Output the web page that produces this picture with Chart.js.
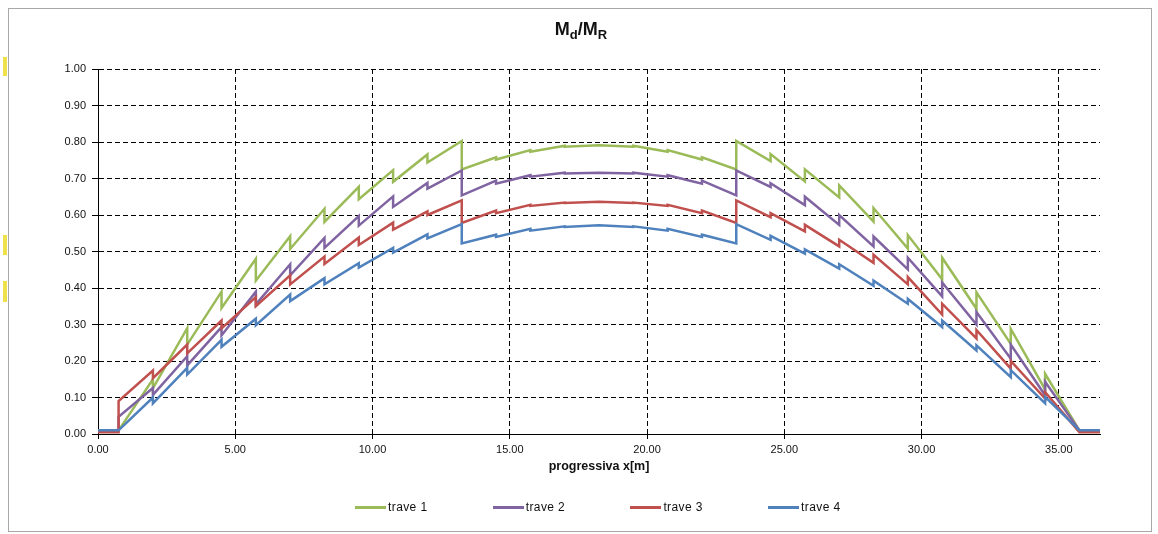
<!DOCTYPE html>
<html>
<head>
<meta charset="utf-8">
<title>Md/MR</title>
<script src="https://cdn.jsdelivr.net/npm/chart.js"></script>
<style>
    * {
        font-family: 'Liberation Sans', Arial, sans-serif;
    }
    body {
        margin: 0;
        background: #fff;
    }
    #wrap {
        position: relative;
        width: 1158px;
        height: 534px;
        overflow: hidden;
    }
    #frame {
        position: absolute;
        left: 8px;
        top: 8px;
        width: 1142px;
        height: 522px;
        border: 1px solid #a8a8a8;
    }
    #title {
        position: absolute;
        left: 0;
        top: 19px;
        width: 1162px;
        text-align: center;
        font-size: 18px;
        font-weight: bold;
        color: #111;
    }
    #title sub {
        font-size: 13px;
        vertical-align: -4px;
    }
    canvas {
        position: absolute;
        left: 0;
        top: 0;
    }
    .giallo {
        position: absolute;
        left: 3px;
        width: 4px;
        background: #efe14a;
    }
    #legend {
        position: absolute;
        left: 355px;
        top: 500px;
        display: flex;
        font-size: 12px;
        letter-spacing: 0.4px;
        color: #111;
    }
    #legend .item {
        display: flex;
        align-items: center;
        width: 137.7px;
    }
    #legend .line {
        display: inline-block;
        width: 31px;
        height: 3px;
        margin-right: 2px;
    }
</style>
</head>
<body>
<div id="wrap">
    <div id="frame"></div>
    <div class="giallo" style="top:57px;height:19px"></div>
    <div class="giallo" style="top:235px;height:20px"></div>
    <div class="giallo" style="top:281px;height:21px"></div>
    <canvas id="grafico" width="1158" height="534"></canvas>
    <div id="title">M<sub>d</sub>/M<sub>R</sub></div>
    <div id="legend"></div>
</div>

<script>
// progressiva (m): ogni sezione di salto compare due volte (prima / dopo)
const progressiva = [
    0,
    0.75, 0.75, 2.00, 2.00, 3.25, 3.25, 4.50, 4.50, 5.75, 5.75,
    7.00, 7.00, 8.25, 8.25, 9.50, 9.50, 10.75, 10.75, 12.00, 12.00,
    13.25, 13.25, 14.50, 14.50, 15.75, 15.75, 17.00, 17.00, 18.25, 18.25,
    19.50, 19.50, 20.75, 20.75, 22.00, 22.00, 23.25, 23.25, 24.50, 24.50,
    25.75, 25.75, 27.00, 27.00, 28.25, 28.25, 29.50, 29.50, 30.75, 30.75,
    32.00, 32.00, 33.25, 33.25, 34.50, 34.50, 35.75, 35.75,
    36.50
];

const trave1 = [
    0.010,
    0.010, 0.010, 0.150, 0.125, 0.290, 0.245, 0.390, 0.345, 0.480, 0.420,
    0.542, 0.507, 0.617, 0.581, 0.677, 0.643, 0.723, 0.691, 0.766, 0.744,
    0.803, 0.725, 0.758, 0.752, 0.778, 0.773, 0.790, 0.787, 0.791, 0.791,
    0.787, 0.790, 0.773, 0.778, 0.752, 0.758, 0.725, 0.803, 0.748, 0.767,
    0.692, 0.725, 0.648, 0.681, 0.582, 0.619, 0.508, 0.545, 0.424, 0.483,
    0.343, 0.388, 0.247, 0.288, 0.122, 0.165, 0.010, 0.010,
    0.010
];

const trave2 = [
    0.010,
    0.010, 0.047, 0.126, 0.107, 0.213, 0.188, 0.293, 0.270, 0.390, 0.355,
    0.465, 0.435, 0.537, 0.510, 0.597, 0.571, 0.651, 0.622, 0.688, 0.672,
    0.722, 0.654, 0.694, 0.686, 0.709, 0.705, 0.716, 0.714, 0.716, 0.716,
    0.714, 0.716, 0.705, 0.709, 0.686, 0.694, 0.654, 0.722, 0.677, 0.687,
    0.627, 0.650, 0.573, 0.600, 0.514, 0.541, 0.451, 0.483, 0.377, 0.415,
    0.300, 0.334, 0.206, 0.245, 0.106, 0.143, 0.010, 0.010,
    0.010
];

const trave3 = [
    0.005,
    0.005, 0.090, 0.174, 0.153, 0.245, 0.221, 0.311, 0.289, 0.375, 0.350,
    0.435, 0.410, 0.486, 0.466, 0.538, 0.518, 0.579, 0.560, 0.610, 0.600,
    0.640, 0.578, 0.612, 0.605, 0.628, 0.625, 0.634, 0.633, 0.636, 0.636,
    0.633, 0.634, 0.625, 0.628, 0.605, 0.612, 0.578, 0.640, 0.594, 0.605,
    0.555, 0.573, 0.514, 0.532, 0.469, 0.491, 0.410, 0.430, 0.327, 0.357,
    0.262, 0.285, 0.179, 0.200, 0.097, 0.115, 0.005, 0.005,
    0.005
];

const trave4 = [
    0.010,
    0.010, 0.010, 0.100, 0.084, 0.181, 0.163, 0.258, 0.239, 0.316, 0.298,
    0.382, 0.364, 0.427, 0.410, 0.468, 0.456, 0.510, 0.497, 0.547, 0.536,
    0.575, 0.522, 0.546, 0.540, 0.562, 0.557, 0.569, 0.567, 0.572, 0.572,
    0.567, 0.569, 0.557, 0.562, 0.540, 0.546, 0.522, 0.575, 0.532, 0.543,
    0.494, 0.506, 0.453, 0.465, 0.406, 0.420, 0.357, 0.370, 0.293, 0.311,
    0.229, 0.243, 0.156, 0.175, 0.084, 0.102, 0.010, 0.010,
    0.010
];

const nomi = ['trave 1', 'trave 2', 'trave 3', 'trave 4'];
const colori = ['#9bbb59', '#8064a2', '#c0504d', '#4f81bd'];
const serie = [trave1, trave2, trave3, trave4];

const xMax = 36.5;
const xStep = 5;
const yStep = 0.1;

const datasets = serie.map((valori, i) => ({
    label: nomi[i],
    data: progressiva.map((x, k) => ({ x: x, y: valori[k] })),
    borderColor: colori[i],
    backgroundColor: colori[i],
    borderWidth: 2.5,
    pointRadius: 0,
    tension: 0,
    fill: false,
    order: serie.length - i
}));

const font = { family: "'Liberation Sans', Arial, sans-serif", size: 11 };

new Chart(document.getElementById('grafico'), {
    type: 'line',
    data: { datasets: datasets },
    options: {
        responsive: false,
        animation: false,
        layout: { padding: { top: 69, left: 8, right: 58, bottom: 60 } },
        plugins: {
            legend: { display: false },
            title: { display: false },
            tooltip: { enabled: false }
        },
        scales: {
            x: {
                type: 'linear',
                min: 0,
                max: xMax,
                ticks: {
                    stepSize: xStep,
                    includeBounds: false,
                    autoSkip: false,
                    maxRotation: 0,
                    padding: 4,
                    color: '#111',
                    font: font,
                    callback: v => v.toFixed(2)
                },
                grid: { color: '#000', lineWidth: 1, tickLength: 5, tickColor: '#000' },
                border: { color: '#000', width: 1, dash: [5, 3] },
                title: {
                    display: true,
                    text: 'progressiva x[m]',
                    color: '#111',
                    padding: 0,
                    font: { family: font.family, size: 12.5, weight: 'bold' }
                },
                afterFit: s => { s.height = 40; }
            },
            y: {
                min: 0,
                max: 1,
                ticks: {
                    stepSize: yStep,
                    autoSkip: false,
                    padding: 6,
                    color: '#111',
                    font: font,
                    callback: v => v.toFixed(2)
                },
                grid: { color: '#000', lineWidth: 1, tickLength: 6, tickColor: '#000' },
                border: { color: '#000', width: 1, dash: [5, 3] },
                afterFit: s => { s.width = 90; }
            }
        }
    }
});

// legenda
const legend = document.getElementById('legend');
nomi.forEach((n, i) => {
    const item = document.createElement('div');
    item.className = 'item';
    item.innerHTML = '<span class="line" style="background:' + colori[i] + '"></span><span>' + n + '</span>';
    legend.appendChild(item);
});
</script>
</body>
</html>
